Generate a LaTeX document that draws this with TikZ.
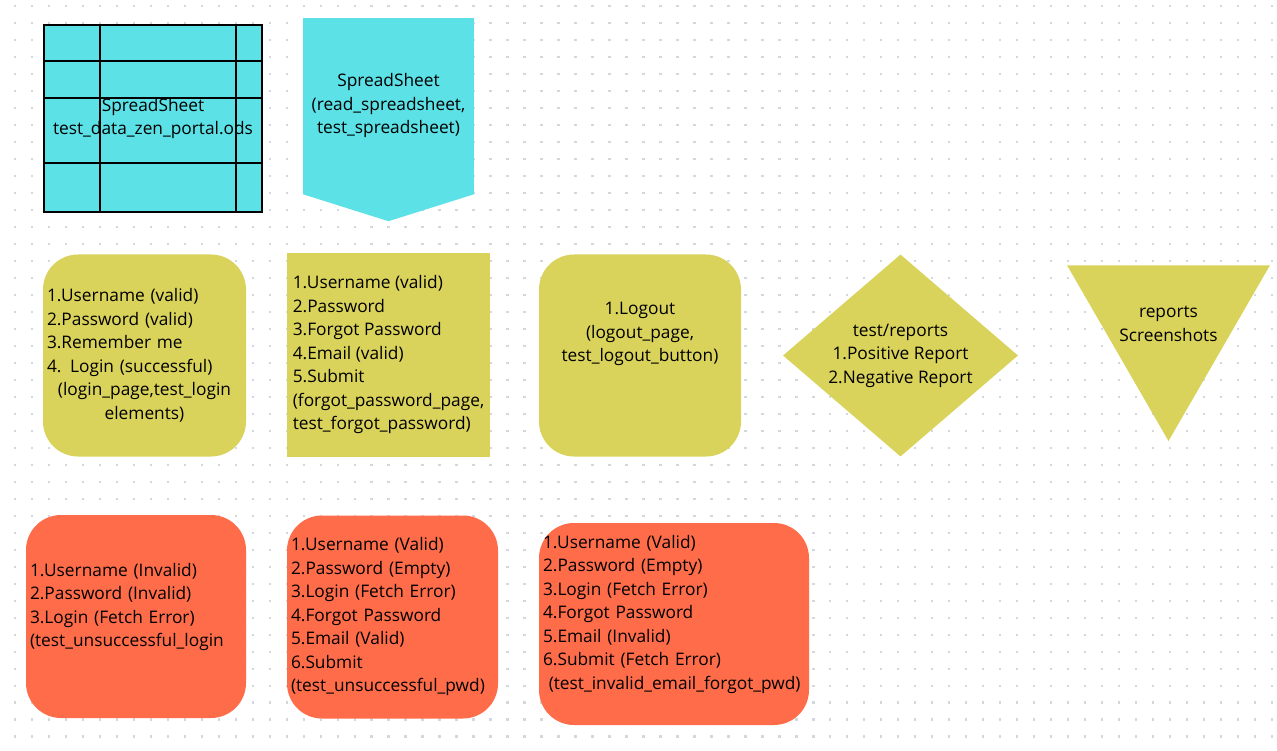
\documentclass[tikz,border=0pt]{standalone}
\usepackage{fontspec}
\setmainfont{Open Sans}
\usepackage{tikz}
\usetikzlibrary{shapes}
\usetikzlibrary{calc}
\definecolor{sheetcyan}{HTML}{5CE1E6}
\definecolor{passyellow}{HTML}{DAD35B}
\definecolor{failred}{HTML}{FF6C4A}
\definecolor{griddot}{HTML}{D3D8DF}
\tikzstyle{card} = [rectangle, inner xsep=4pt, inner ysep=0pt, text=black,
font=\fontsize{17.3}{23.5}\selectfont]
\tikzstyle{sheet} = [card, fill=sheetcyan, draw=black, line width=2pt, align=center]
\tikzstyle{reader} = [card, fill=sheetcyan, align=center]
\tikzstyle{pass} = [card, fill=passyellow, rounded corners=35pt]
\tikzstyle{passsquare} = [card, fill=passyellow]
\tikzstyle{fail} = [card, fill=failred, rounded corners=35pt, align=left]
\tikzstyle{sheetline} = [draw=black, line width=2pt]
\begin{document}
\begin{tikzpicture}[x=1pt,y=-1pt]

	\fill[white] (0,0) rectangle (1277,751);
	\useasboundingbox (0,0) rectangle (1277,751);

	% dotted page grid
	\foreach \i in {0,...,74} {
	  \foreach \j in {0,...,43} {
	    \fill[griddot] ({13.8+16.985*\i},{5.1+16.985*\j}) rectangle ++(2.4,2.4);
	  }
	}

	\node[sheet, minimum width=218, minimum height=187] (sheet) at (153,118.5)
	  {SpreadSheet\\test\_data\_zen\_portal.ods};
	\foreach \gx in {100,236}
	  \draw[sheetline] (sheet.north -| \gx,0) -- (sheet.south -| \gx,0);
	\foreach \gy in {61,98,163}
	  \draw[sheetline] (sheet.west |- 0,\gy) -- (sheet.east |- 0,\gy);

	\node[reader, minimum width=171, minimum height=176] (reader) at (388.5,106)
	  {SpreadSheet\\(read\_spreadsheet,\\test\_spreadsheet)};
	\fill[sheetcyan] (reader.south west) -- (reader.south east)
	  -- ($(reader.south)+(0,27)$) -- cycle;

	\node[pass, minimum width=203, minimum height=202, text width=195, align=left]
	  (login) at (144.5,355.5)
	  {1.Username (valid)\\2.Password (valid)\\3.Remember me\\4. Login (successful)\\
	   \makebox[\linewidth]{(login\_page,test\_login}\\\makebox[\linewidth]{elements)}};

	\node[passsquare, minimum width=203, minimum height=203, align=left]
	  (forgot) at (388.5,355)
	  {1.Username (valid)\\2.Password\\3.Forgot Password\\4.Email (valid)\\5.Submit\\
	   (forgot\_password\_page,\\test\_forgot\_password)};

	\node[pass, minimum width=202, minimum height=202, align=center]
	  (logout) at (640,355.5)
	  {1.Logout\\(logout\_page,\\test\_logout\_button)\\~\\~};

	\node[card, diamond, fill=passyellow, inner sep=-6pt, minimum width=235,
	  minimum height=202, align=center] (reports) at (900.5,355.5)
	  {test/reports\\1.Positive Report\\2.Negative Report};

	\node[card, regular polygon, regular polygon sides=3, shape border rotate=180,
	  fill=passyellow, inner sep=-20pt, minimum size=234, align=center]
	  (shots) at (1168.5,324) {reports\\Screenshots};

	\node[fail, minimum width=220, minimum height=203, text width=212]
	  (badlogin) at (136,616.5)
	  {1.Username (Invalid)\\2.Password (Invalid)\\3.Login (Fetch Error)\\
	   (test\_unsuccessful\_login\\~};

	\node[fail, minimum width=211, minimum height=203, text width=203]
	  (badpwd) at (392.5,617)
	  {1.Username (Valid)\\2.Password (Empty)\\3.Login (Fetch Error)\\
	   4.Forgot Password\\5.Email (Valid)\\6.Submit\\(test\_unsuccessful\_pwd)};

	\node[fail, minimum width=270, minimum height=202, text width=262]
	  (bademail) at (674,624)
	  {1.Username (Valid)\\2.Password (Empty)\\3.Login (Fetch Error)\\
	   4.Forgot Password\\5.Email (Invalid)\\6.Submit (Fetch Error)\\
	   \ (test\_invalid\_email\_forgot\_pwd)\\~};

\end{tikzpicture}
\end{document}
